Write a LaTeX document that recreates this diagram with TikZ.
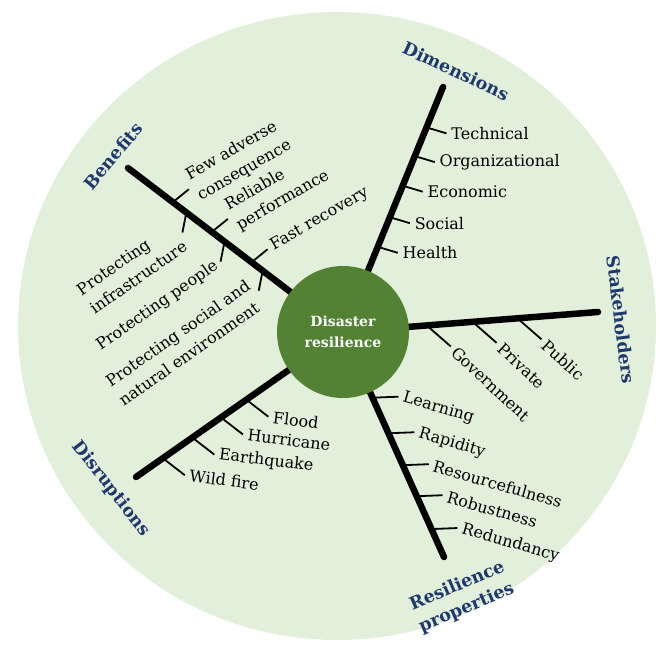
\documentclass[tikz,border=0pt]{standalone}
\usepackage{fontspec}
\setmainfont{DejaVu Serif}
\usetikzlibrary{calc}

\definecolor{paleGreen}{RGB}{226,239,218}
\definecolor{hubGreen}{RGB}{84,130,53}
\definecolor{navyText}{RGB}{31,56,110}

\begin{document}
\begin{tikzpicture}[
    x=1pt, y=-1pt,
    spoke/.style={line width=6.5pt, line cap=round},
    tick/.style={line width=1.8pt},
    lbl/.style={font=\fontsize{16}{23}\selectfont, inner sep=4pt, align=left},
    cat/.style={font=\fontsize{17.5}{24}\selectfont\bfseries, text=navyText, inner sep=0pt, align=center}
]
\useasboundingbox (0,0) rectangle (660,644);

% ── Background disc ──────────────────────────────────────────────────────────
\fill[paleGreen] (337,326) ellipse [x radius=319, y radius=314];

% ── Spokes (hub is drawn on top of them) ─────────────────────────────────────
\coordinate (hubC)   at (343,332);
\coordinate (benEnd) at (128,168);
\coordinate (dimEnd) at (443,87);
\coordinate (stkEnd) at (598,312);
\coordinate (resEnd) at (444,557);
\coordinate (disEnd) at (136,477);

\foreach \e in {benEnd, dimEnd, stkEnd, resEnd, disEnd} {
    \draw[spoke] (hubC) -- (\e);
}

% ── Hub ──────────────────────────────────────────────────────────────────────
\node[circle, fill=hubGreen, minimum size=132pt, inner sep=0pt, text=white,
      font=\fontsize{14}{21}\selectfont\bfseries, align=center]
      (hub) at (hubC) {Disaster\\resilience};

% ── Dimensions ───────────────────────────────────────────────────────────────
\foreach \d/\txt [count=\k] in {221/Technical, 190/Organizational, 158/Economic, 124/Social, 92/Health} {
    \draw[tick] ($(hubC)!\d pt!(dimEnd)$) -- ++(20,6) node[lbl, anchor=west] (dim\k) {\txt};
}

% ── Stakeholders ─────────────────────────────────────────────────────────────
\foreach \d/\txt [count=\k] in {84/Government, 130/Private, 175/Public} {
    \draw[tick] ($(hubC)!\d pt!(stkEnd)$) -- ++(24,21) node[lbl, anchor=west, rotate=-43] (stk\k) {\txt};
}

% ── Resilience properties ────────────────────────────────────────────────────
\foreach \d/\txt [count=\k] in {72/Learning, 111/Rapidity, 146/Resourcefulness, 180/Robustness, 216/Redundancy} {
    \draw[tick] ($(hubC)!\d pt!(resEnd)$) -- ++(26,-1) node[lbl, anchor=west, rotate=-16] (res\k) {\txt};
}

% ── Disruptions ──────────────────────────────────────────────────────────────
\foreach \d/\txt [count=\k] in {118/Flood, 149/Hurricane, 184/Earthquake, 220/Wild fire} {
    \draw[tick] ($(hubC)!\d pt!(disEnd)$) -- ++(22,17) node[lbl, anchor=west, rotate=-7] (dis\k) {\txt};
}

% ── Benefits: both sides of the spoke ────────────────────────────────────────
\foreach \d/\txt [count=\k] in {214/{Few adverse\\consequence}, 165/{Reliable\\performance}, 115/{Fast recovery}} {
    \draw[tick] ($(hubC)!\d pt!(benEnd)$) -- ++(16,-13) node[lbl, anchor=west, rotate=30] (benU\k) {\txt};
}
\foreach \d/\txt [count=\k] in {197/{Protecting\\infrastructure}, 149/{Protecting people}, 101/{Protecting social and\\natural environment}} {
    \draw[tick] ($(hubC)!\d pt!(benEnd)$) -- ++(-4,20) node[lbl, anchor=east, rotate=35] (benL\k) {\txt};
}

% ── Category titles ──────────────────────────────────────────────────────────
\node[cat, rotate=50]  (benefits)     at (113,156) {Benefits};
\node[cat, rotate=-25] (dimensions)   at (456,71)  {Dimensions};
\node[cat, rotate=-83] (stakeholders) at (621,320) {Stakeholders};
\node[cat, rotate=23]  (properties)   at (462,597) {Resilience\\properties};
\node[cat, rotate=-52] (disruptions)  at (111,489) {Disruptions};

\end{tikzpicture}
\end{document}
